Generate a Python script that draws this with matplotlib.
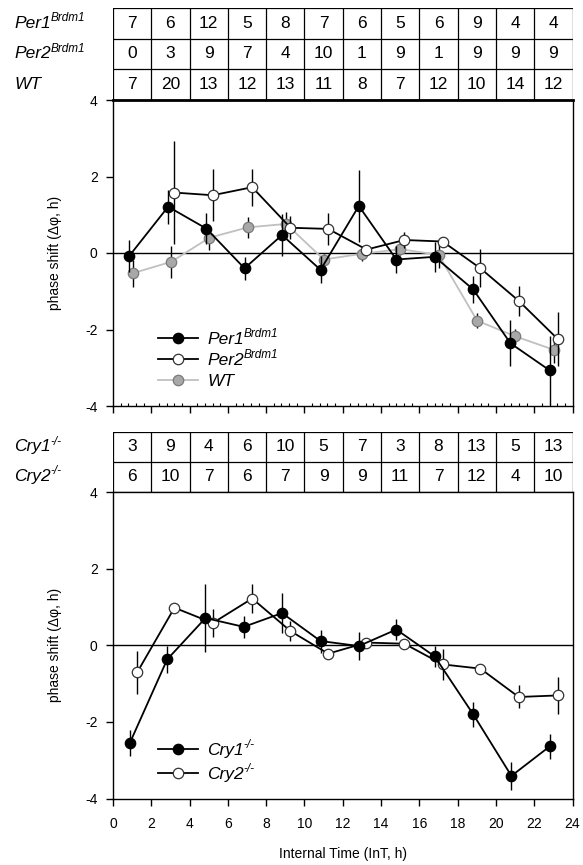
import matplotlib
matplotlib.use("Agg")
import matplotlib.pyplot as plt
from matplotlib.ticker import MultipleLocator

plt.rcParams['font.family'] = ['Liberation Sans', 'DejaVu Sans']
plt.rcParams['axes.unicode_minus'] = False

# sample sizes per 2-h bin
per1_n = [7, 6, 12, 5, 8, 7, 6, 5, 6, 9, 4, 4]
per2_n = [0, 3, 9, 7, 4, 10, 1, 9, 1, 9, 9, 9]
wt_n = [7, 20, 13, 12, 13, 11, 8, 7, 12, 10, 14, 12]
cry1_n = [3, 9, 4, 6, 10, 5, 7, 3, 8, 13, 5, 13]
cry2_n = [6, 10, 7, 6, 7, 9, 9, 11, 7, 12, 4, 10]

# top panel
per1_t = [0.86, 2.88, 4.87, 6.87, 8.83, 10.84, 12.84, 14.8, 16.8, 18.81, 20.76, 22.81]
per1_y = [-0.07, 1.21, 0.64, -0.40, 0.47, -0.44, 1.23, -0.17, -0.10, -0.95, -2.36, -3.07]
per1_e = [0.42, 0.45, 0.4, 0.3, 0.55, 0.35, 0.93, 0.35, 0.4, 0.35, 0.6, 0.9]

per2_t = [3.21, 5.21, 7.27, 9.27, 11.24, 13.24, 15.22, 17.22, 19.19, 21.19, 23.23]
per2_y = [1.58, 1.51, 1.72, 0.66, 0.63, 0.09, 0.34, 0.30, -0.40, -1.25, -2.25]
per2_e = [1.35, 0.68, 0.48, 0.3, 0.42, 0.1, 0.2, 0.1, 0.5, 0.4, 0.7]

wt_t = [1.03, 3.04, 5.04, 7.04, 9.04, 11.01, 13.01, 15.01, 17.01, 19.02, 21.02, 23.02]
wt_y = [-0.53, -0.23, 0.40, 0.67, 0.76, -0.17, -0.02, 0.10, -0.05, -1.77, -2.18, -2.53]
wt_e = [0.35, 0.42, 0.33, 0.28, 0.3, 0.15, 0.2, 0.15, 0.35, 0.2, 0.2, 0.35]

# bottom panel
cry1_t = [0.88, 2.83, 4.83, 6.83, 8.83, 10.84, 12.84, 14.8, 16.8, 18.81, 20.81, 22.81]
cry1_y = [-2.55, -0.37, 0.71, 0.48, 0.84, 0.11, -0.02, 0.41, -0.29, -1.80, -3.41, -2.64]
cry1_e = [0.33, 0.35, 0.88, 0.28, 0.53, 0.3, 0.37, 0.27, 0.28, 0.33, 0.37, 0.33]

cry2_t = [1.26, 3.21, 5.21, 7.27, 9.27, 11.24, 13.24, 15.22, 17.22, 19.19, 21.19, 23.23]
cry2_y = [-0.71, 0.98, 0.58, 1.22, 0.37, -0.22, 0.07, 0.04, -0.50, -0.61, -1.35, -1.31]
cry2_e = [0.57, 0.1, 0.37, 0.39, 0.25, 0.1, 0.1, 0.1, 0.4, 0.1, 0.3, 0.48]

# (name, superscript)
PER1 = ('Per1', 'Brdm1')
PER2 = ('Per2', 'Brdm1')
WT = ('WT', '')
CRY1 = ('Cry1', '-/-')
CRY2 = ('Cry2', '-/-')

W, H = 583, 865
fig = plt.figure(figsize=(W / 100, H / 100), dpi=100)


def box(x0, y0, x1, y1):
    # pixel box (top-left origin) -> figure fraction
    return [x0 / W, 1 - y1 / H, (x1 - x0) / W, (y1 - y0) / H]


def add_sup(ax, txt, sup):
    if sup:
        ax.annotate(sup, xy=(1.0, 0.45), xycoords=txt, ha='left', va='bottom',
                    fontsize=8.5, style='italic', annotation_clip=False, zorder=10)


def draw_table(ax, rows, labels):
    nr = len(rows)
    ax.set_xlim(0, 24)
    ax.set_ylim(0, nr)
    for xb in range(0, 25, 2):
        ax.axvline(xb, color='black', lw=0.9)
    for yb in range(nr + 1):
        ax.axhline(yb, color='black', lw=0.9)
    for i, (vals, lab) in enumerate(zip(rows, labels)):
        yc = nr - i - 0.5
        for j, v in enumerate(vals):
            ax.text(2 * j + 1, yc, str(v), ha='center', va='center', fontsize=12.5)
        t = ax.text(-0.215, yc, lab[0], transform=ax.get_yaxis_transform(),
                    ha='left', va='center', fontsize=12.5, style='italic')
        add_sup(ax, t, lab[1])
    ax.set_xticks([])
    ax.set_yticks([])
    for s in ax.spines.values():
        s.set_visible(False)


def series(ax, t, y, e, face, edge, line, label, z):
    ax.errorbar(t, y, yerr=e, fmt='none', ecolor='black', elinewidth=1.0, capsize=0, zorder=z)
    ax.plot(t, y, '-o', color=line, lw=1.3, ms=7.5, mfc=face, mec=edge, mew=0.9,
            label=label[0], zorder=z + 0.5)


def style_axes(ax):
    ax.set_xlim(0, 24)
    ax.set_ylim(-4, 4)
    ax.axhline(0, color='black', lw=1.0, zorder=1)
    ax.yaxis.set_major_locator(MultipleLocator(2))
    ax.xaxis.set_major_locator(MultipleLocator(2))
    ax.tick_params(axis='both', which='major', direction='out', length=5, width=1.0,
                   labelsize=10)
    ax.tick_params(axis='y', pad=6)
    ax.tick_params(axis='x', pad=8)
    for s in ax.spines.values():
        s.set_linewidth(1.0)
    ax.set_ylabel('phase shift (\u0394\u03c6, h)', fontsize=10, labelpad=17)


def legend(ax, handles, labels, y, spacing):
    leg = ax.legend(handles, [l[0] for l in labels], loc='upper left',
                    bbox_to_anchor=(0.08, y), frameon=False,
                    prop={'size': 12.5, 'style': 'italic'},
                    handlelength=2.3, handletextpad=0.5, labelspacing=spacing, borderpad=0)
    for txt, lab in zip(leg.get_texts(), labels):
        add_sup(ax, txt, lab[1])


# top table + panel
tab1 = fig.add_axes(box(113, 8, 572.5, 99.5))
draw_table(tab1, [per1_n, per2_n, wt_n], [PER1, PER2, WT])

ax1 = fig.add_axes(box(113, 100, 572.5, 406))
style_axes(ax1)
ax1.xaxis.set_minor_locator(MultipleLocator(0.4))
ax1.tick_params(axis='x', which='minor', direction='in', length=2.5, width=0.8)
ax1.set_xticklabels([])
ax1.spines['top'].set_linewidth(2.0)
series(ax1, wt_t, wt_y, wt_e, '#a8a8a8', '#7a7a7a', '#c0c0c0', WT, 2)
series(ax1, per2_t, per2_y, per2_e, 'white', '#333333', 'black', PER2, 4)
series(ax1, per1_t, per1_y, per1_e, 'black', 'black', 'black', PER1, 6)
h, _ = ax1.get_legend_handles_labels()
legend(ax1, [h[2], h[1], h[0]], [PER1, PER2, WT], 0.272, 0.35)

# bottom table + panel
tab2 = fig.add_axes(box(113, 432, 572.5, 491.5))
draw_table(tab2, [cry1_n, cry2_n], [CRY1, CRY2])

ax2 = fig.add_axes(box(113, 492, 572.5, 798.5))
style_axes(ax2)
series(ax2, cry2_t, cry2_y, cry2_e, 'white', '#333333', 'black', CRY2, 2)
series(ax2, cry1_t, cry1_y, cry1_e, 'black', 'black', 'black', CRY1, 4)
h, _ = ax2.get_legend_handles_labels()
legend(ax2, [h[1], h[0]], [CRY1, CRY2], 0.21, 0.5)
ax2.set_xlabel('Internal Time (InT, h)', fontsize=10, labelpad=12)

fig.canvas.draw()
fig.savefig('out.png', dpi=100)
